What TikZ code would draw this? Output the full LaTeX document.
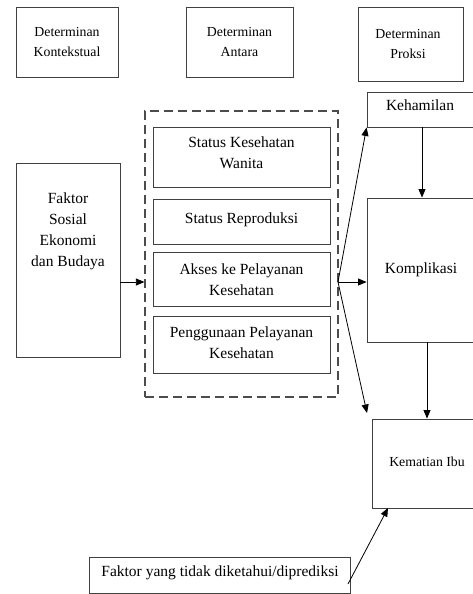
\documentclass[tikz,border=0pt]{standalone}
\usepackage{fontspec}
\setmainfont{Liberation Serif}
\usetikzlibrary{arrows.meta,shadows,calc}
\begin{document}
\begin{tikzpicture}[x=1pt,y=-1pt,
  box/.style={draw=black!75,line width=0.9pt,fill=white,rectangle,inner sep=0pt,
    drop shadow={shadow xshift=1.2pt,shadow yshift=-1.2pt,opacity=0.25}},
  txt/.style={align=center,inner sep=0pt,font=\fontsize{15.5}{21}\selectfont},
  toptxt/.style={align=center,inner sep=0pt,font=\fontsize{13.8}{20}\selectfont},
  arr/.style={draw=black,line width=0.8pt,-{Triangle[length=8.5pt,width=7pt]}},
  dashbox/.style={draw=black!70,line width=1.2pt,dash pattern=on 9pt off 5pt,rectangle,inner sep=0pt}]
\useasboundingbox (0,0) rectangle (473,594);
% top boxes
\node[box,minimum width=102,minimum height=70] (dk) at (67,42) {};
\node[toptxt] (tdk) at (67,42) {Determinan\\Kontekstual};
\node[box,minimum width=107,minimum height=70] (da) at (239.5,42) {};
\node[toptxt] (tda) at (239.5,42) {Determinan\\Antara};
\node[box,minimum width=105,minimum height=74] (dp) at (410.5,44) {};
\node[toptxt] (tdp) at (408,44) {Determinan\\Proksi};
% left
\node[box,minimum width=104,minimum height=194] (fs) at (68,260) {};
\node[txt] (tfs) at (68,231) {Faktor\\Sosial\\Ekonomi\\dan Budaya};
% dashed group
\node[dashbox,minimum width=193,minimum height=286] (grp) at (241.5,254) {};
\node[box,minimum width=177,minimum height=60] (s1) at (241.5,157) {};
\node[txt] (ts1) at (241.5,152.5) {Status Kesehatan\\Wanita};
\node[box,minimum width=177,minimum height=45] (s2) at (241.5,221.5) {};
\node[txt] (ts2) at (241.5,220) {Status Reproduksi};
\node[box,minimum width=177,minimum height=54] (s3) at (241.5,279) {};
\node[txt] (ts3) at (241.5,280) {Akses ke Pelayanan\\Kesehatan};
\node[box,minimum width=177,minimum height=57] (s4) at (241.5,344.5) {};
\node[txt] (ts4) at (241.5,343) {Penggunaan Pelayanan\\Kesehatan};
% right
\node[box,minimum width=110,minimum height=35] (keh) at (422,109.5) {};
\node[txt] (tkeh) at (420,105) {Kehamilan};
\node[box,minimum width=110,minimum height=144] (kom) at (422,270) {};
\node[txt] (tkom) at (421,270) {Komplikasi};
\node[box,minimum width=110,minimum height=89] (kem) at (427,463.5) {};
\node[toptxt] (tkem) at (427,462) {Kematian Ibu};
% bottom
\node[box,minimum width=261,minimum height=36] (fx) at (219.5,575) {};
\node[txt] (tfx) at (220,573) {Faktor yang tidak diketahui/diprediksi};
% connectors
\coordinate (hub) at (338,282);
\coordinate (kemin) at (367,413);
\coordinate (fxo) at (348,584);
\coordinate (kemb) at (388,508);
\draw[arr] (fs.east |- hub) -- (grp.west |- hub);
\draw[arr] (hub) -- (keh.south west);
\draw[arr] (hub) -- (kom.west |- hub);
\draw[arr] (hub) -- (kemin);
\draw[arr] (keh.south) -- (kom.north);
\draw[arr] (kem.north |- kom.south) -- (kem.north);
\draw[arr] (fxo) -- (kemb);
\end{tikzpicture}
\end{document}
